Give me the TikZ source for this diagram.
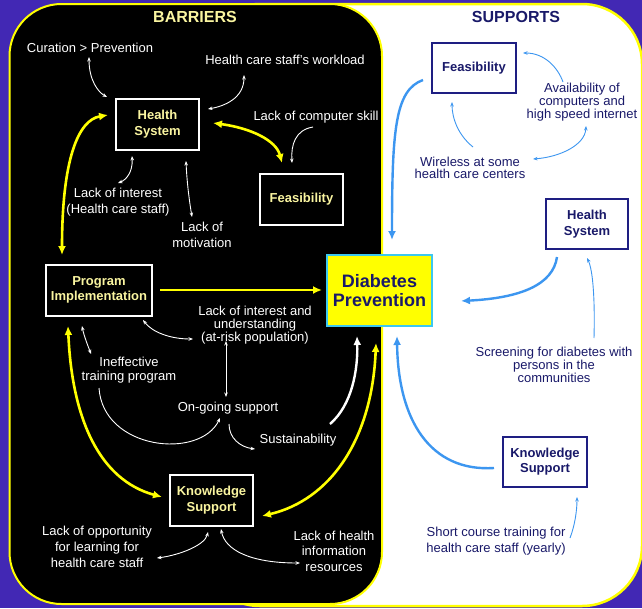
\documentclass[tikz,border=0pt]{standalone}
\usepackage{fontspec}
\setmainfont{Liberation Sans}
\usetikzlibrary{arrows.meta,calc}
\definecolor{bgpurple}{RGB}{66,40,180}
\definecolor{navy}{RGB}{25,25,105}
\definecolor{boxnavy}{RGB}{30,30,130}
\definecolor{paleyel}{RGB}{250,245,160}
\definecolor{ablue}{RGB}{60,150,240}
\definecolor{dpcyan}{RGB}{60,200,240}
\definecolor{yline}{RGB}{255,255,0}
\begin{document}
\begin{tikzpicture}[x=1pt,y=-1pt,
  wtxt/.style={text=white, align=center, inner sep=0pt, font=\fontsize{13}{#1}\selectfont},
  wtxt/.default=16,
  ntxt/.style={text=navy, align=center, inner sep=0pt, font=\fontsize{13}{#1}\selectfont},
  ntxt/.default=13,
  lbox/.style={draw=white, line width=2pt, fill=black, text=paleyel, font=\bfseries\fontsize{13}{15.5}\selectfont, align=center, inner sep=0pt, minimum height=51pt},
  rbox/.style={draw=boxnavy, line width=2pt, fill=white, text=navy, font=\bfseries\fontsize{13}{15.5}\selectfont, align=center, inner sep=0pt, minimum height=50pt},
  dpbox/.style={draw=dpcyan, line width=2.5pt, fill=yline, text=navy, font=\bfseries\fontsize{18}{19}\selectfont, align=center, inner sep=0pt, minimum width=105pt, minimum height=71pt},
  title/.style={font=\bfseries\fontsize{16}{16}\selectfont, inner sep=0pt},
  yarr/.style={draw=yline, line width=2.6pt, >={Latex[length=9pt,width=8pt]}},
  warr/.style={draw=white, line width=2.4pt, >={Latex[length=9pt,width=8pt]}},
  barr/.style={draw=ablue, line width=2.4pt, >={Latex[length=9pt,width=8pt]}},
  wthin/.style={draw=white, line width=0.9pt, >={Stealth[length=4.5pt,width=3.5pt]}},
  bthin/.style={draw=ablue, line width=0.9pt, >={Stealth[length=4.5pt,width=3.5pt]}}
]
\useasboundingbox (0,0) rectangle (642,608);
\fill[bgpurple] (0,0) rectangle (642,608);
\draw[yline, line width=2.5pt, fill=white, rounded corners=60pt] (200,4) rectangle (642,606);
\draw[yline, line width=2pt, fill=black, rounded corners=52pt] (9.5,4) rectangle (382,604);

% titles
\node[title, text=paleyel] (tbar) at (195,17) {BARRIERS};
\node[title, text=navy] (tsup) at (516,17) {SUPPORTS};

% boxes
\node[lbox, minimum width=83pt] (hsL) at (157.5,124) {Health\\System};
\node[lbox, minimum width=83pt] (feL) at (301.5,199.5) {Feasibility};
\node[lbox, minimum width=106pt] (piL) at (99,290) {Program\\Implementation};
\node[dpbox] (dp) at (379.5,290.5) {Diabetes\\Prevention};
\node[lbox, minimum width=83pt] (ksL) at (211.5,500) {Knowledge\\Support};
\node[rbox, minimum width=84pt] (feR) at (474,68) {Feasibility};
\node[rbox, minimum width=82pt] (hsR) at (587,224) {Health\\System};
\node[rbox, minimum width=84pt] (ksR) at (545,461.5) {Knowledge\\Support};

% texts
\node[wtxt] (tcur) at (90,48) {Curation > Prevention};
\node[wtxt] (twork) at (285,60) {Health care staff's workload};
\node[wtxt] (tcomp) at (316,117) {Lack of computer skill};
\node[wtxt=15.7] (tlint) at (118,202) {Lack of interest\\(Health care staff)};
\node[wtxt] (tmot) at (202,235) {Lack of\\motivation};
\node[wtxt=13.3] (tlint2) at (255,325) {Lack of interest and\\understanding\\(at-risk population)};
\node[wtxt=13.5] (tinef) at (129,370) {Ineffective\\training program};
\node[wtxt] (tong) at (228,408) {On-going support};
\node[wtxt] (tsus) at (298,440) {Sustainability};
\node[wtxt=15.7] (topp) at (97,547) {Lack of opportunity\\for learning for\\health care staff};
\node[wtxt=15.5] (thinfo) at (334,551) {Lack of health\\information\\resources};
\node[ntxt=13] (tavail) at (582,102) {Availability of\\computers and\\high speed internet};
\node[ntxt=12.5] (twire) at (470,168) {Wireless at some\\health care centers};
\node[ntxt=13] (tscreen) at (554,365) {Screening for diabetes with\\persons in the\\communities};
\node[ntxt=16] (tshort) at (496,541) {Short course training for\\health care staff (yearly)};

% yellow connectors
\draw[yarr,<->] ($(hsL)+(55.5,-1)$) .. controls (250,128) and (276,140) .. ($(feL)+(-19.5,-36.5)$);
\draw[yarr,<->] ($(hsL)+(-49.5,-9)$) .. controls (78,120) and (62,160) .. ($(piL)+(-37,-35)$);
\draw[yarr,->] ($(piL)+(61,0)$) -- ($(dp)+(-57.5,-0.5)$);
\draw[yarr,<->] ($(piL)+(-31,36)$) .. controls (72,420) and (100,480) .. ($(ksL)+(-49.5,-3)$);
\draw[yarr,<->] ($(ksL)+(50.5,16)$) .. controls (330,500) and (372,440) .. ($(dp)+(-3.5,52.5)$);
\draw[warr,->] ($(tsus)+(32,-16)$) .. controls (352,405) and (358,370) .. ($(dp)+(-22.5,45.5)$);

% thin white connectors
\draw[wthin,<->] ($(tcur)+(-1,9)$) .. controls (89,80) and (98,92) .. ($(hsL)+(-50.5,-27)$);
\draw[wthin,<->] ($(twork)+(-41,15)$) .. controls (244,98) and (225,106) .. ($(hsL)+(50.5,-15)$);
\draw[wthin,->] ($(tcomp)+(-3,10)$) .. controls (295,130) and (291,145) .. ($(feL)+(-9.5,-36.5)$);
\draw[wthin,<->] ($(hsL)+(-25.5,32)$) .. controls (133,172) and (126,180) .. ($(tlint)+(0,-19)$);
\draw[wthin,<->] ($(hsL)+(28.5,37)$) .. controls (187,185) and (190,205) .. ($(tmot)+(-10,-18)$);
\draw[wthin,<->] ($(piL)+(44,30)$) .. controls (152,332) and (170,339) .. ($(tlint2)+(-62,14)$);
\draw[wthin,<->] ($(piL)+(-17,36)$) .. controls (84,336) and (88,346) .. ($(tinef)+(-38,-16)$);
\draw[wthin,<->] ($(tlint2)+(-29,16)$) -- ($(tong)+(-2,-11)$);
\draw[wthin,->] ($(tinef)+(-30,18)$) .. controls (103,450) and (200,460) .. ($(tong)+(-8,10)$);
\draw[wthin,->] ($(tong)+(1,16)$) .. controls (229,438) and (240,447) .. ($(tsus)+(-43,9)$);
\draw[wthin,<->] ($(ksL)+(-3.5,32)$) .. controls (205,545) and (180,555) .. ($(topp)+(60,11)$);
\draw[wthin,<->] ($(ksL)+(9.5,29)$) .. controls (225,550) and (250,563) .. ($(thinfo)+(-34,12)$);

% blue thick connectors
\draw[barr,->] ($(feR)+(-51,12)$) .. controls (395,90) and (392,130) .. ($(dp)+(12.5,-50.5)$);
\draw[barr,->] ($(hsR)+(-30,33)$) .. controls (553,285) and (520,298) .. ($(dp)+(81.5,10.5)$);
\draw[barr,->] ($(ksR)+(-51,6.5)$) .. controls (430,472) and (398,420) .. ($(dp)+(17.5,45.5)$);

% blue thin connectors
\draw[bthin,->] ($(tavail)+(-19,-20)$) .. controls (558,68) and (545,53) .. ($(feR)+(49,-15)$);
\draw[bthin,<->] ($(tavail)+(4,24)$) .. controls (585,145) and (560,157) .. ($(twire)+(63,-9)$);
\draw[bthin,->] ($(twire)+(3,-21)$) .. controls (458,135) and (452,118) .. ($(feR)+(-22,34)$);
\draw[bthin,->] ($(tscreen)+(40,-27)$) .. controls (595,300) and (593,270) .. ($(hsR)+(0,34)$);
\draw[bthin,->] ($(tshort)+(74,-3)$) .. controls (575,525) and (577,510) .. ($(ksR)+(32,35.5)$);
\end{tikzpicture}
\end{document}
